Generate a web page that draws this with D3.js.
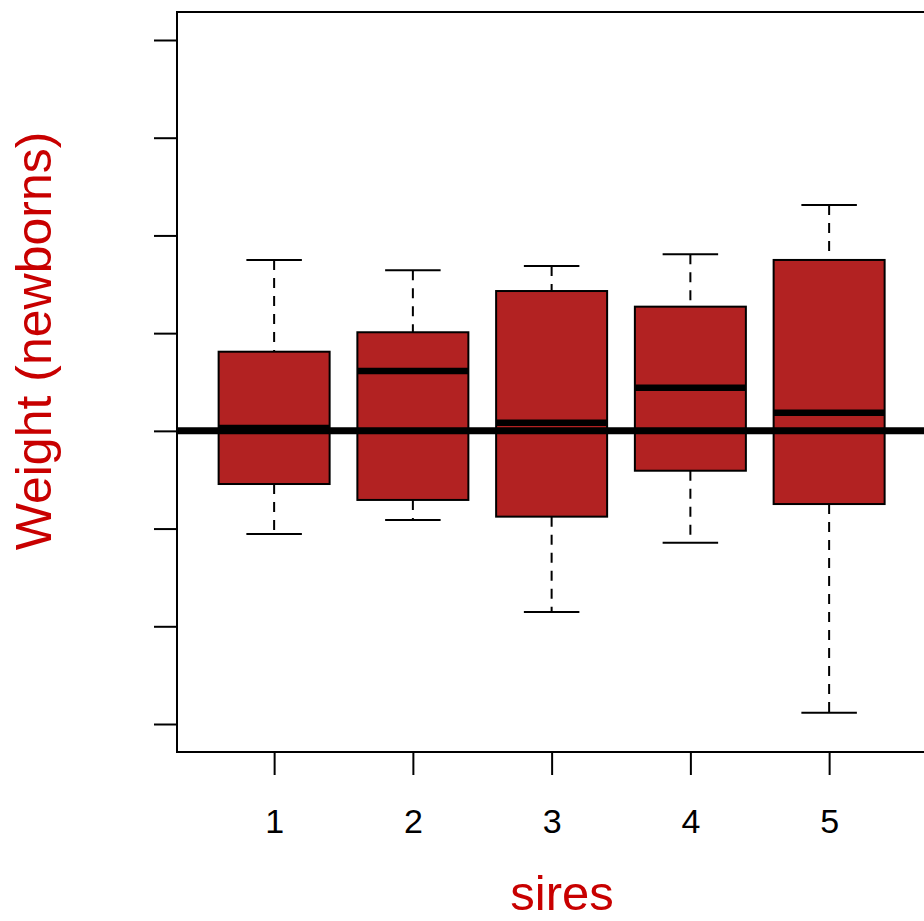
<!DOCTYPE html>
<html>
<head>
<meta charset="utf-8">
<script src="https://cdn.jsdelivr.net/npm/d3@7"></script>
<style>
  html, body { margin: 0; padding: 0; background: #fff; }
  svg { display: block; }
  text { font-family: "Liberation Sans", Arial, sans-serif; }
</style>
</head>
<body>
<svg id="chart" width="924" height="921"></svg>
<script>
// Five-number summaries of newborn weight, per sire
const sires = [1, 2, 3, 4, 5];
const whiskerLow  = [-1.056, -0.912, -1.854, -1.145, -2.884];
const quart1      = [-0.544, -0.707, -0.878, -0.408, -0.749];
const medians     = [ 0.029,  0.613,  0.084,  0.442,  0.186];
const quart3      = [ 0.810,  1.009,  1.431,  1.271,  1.749];
const whiskerHigh = [ 1.749,  1.643,  1.687,  1.807,  2.311];
const yTicks = [-3, -2, -1, 0, 1, 2, 3, 4];
const refLevel = 0;

(function () {
  const svg = d3.select("#chart");
  const pLeft = 177, pRight = 926.25, pTop = 12, pBottom = 752;

  const x = d3.scaleLinear().domain([0.3, 5.7]).range([pLeft, pRight]);
  const y = d3.scaleLinear().domain([-3.2865, 4.2865]).range([pBottom, pTop]);

  const boxHalf = 0.4, capHalf = 0.2;
  const fill = "#B22222", labelRed = "#C80000";

  svg.append("defs").append("clipPath").attr("id", "plotClip")
    .append("rect").attr("x", pLeft).attr("y", pTop)
    .attr("width", pRight - pLeft).attr("height", pBottom - pTop);

  const plot = svg.append("g").attr("clip-path", "url(#plotClip)");

  const data = sires.map((s, i) => ({
    s, lo: whiskerLow[i], q1: quart1[i], med: medians[i], q3: quart3[i], hi: whiskerHigh[i]
  }));

  const g = plot.selectAll("g.box").data(data).join("g").attr("class", "box");

  // whiskers (dashed)
  g.append("line")
    .attr("x1", d => x(d.s)).attr("x2", d => x(d.s))
    .attr("y1", d => y(d.hi)).attr("y2", d => y(d.q3))
    .attr("stroke", "#000").attr("stroke-width", 2).attr("stroke-dasharray", "10,8");
  g.append("line")
    .attr("x1", d => x(d.s)).attr("x2", d => x(d.s))
    .attr("y1", d => y(d.q1)).attr("y2", d => y(d.lo))
    .attr("stroke", "#000").attr("stroke-width", 2).attr("stroke-dasharray", "10,8");
  // staples
  g.append("line")
    .attr("x1", d => x(d.s - capHalf)).attr("x2", d => x(d.s + capHalf))
    .attr("y1", d => y(d.hi)).attr("y2", d => y(d.hi))
    .attr("stroke", "#000").attr("stroke-width", 2);
  g.append("line")
    .attr("x1", d => x(d.s - capHalf)).attr("x2", d => x(d.s + capHalf))
    .attr("y1", d => y(d.lo)).attr("y2", d => y(d.lo))
    .attr("stroke", "#000").attr("stroke-width", 2);
  // boxes
  g.append("rect")
    .attr("x", d => x(d.s - boxHalf)).attr("width", d => x(d.s + boxHalf) - x(d.s - boxHalf))
    .attr("y", d => y(d.q3)).attr("height", d => y(d.q1) - y(d.q3))
    .attr("fill", fill).attr("stroke", "#000").attr("stroke-width", 2);
  // medians
  g.append("line")
    .attr("x1", d => x(d.s - boxHalf)).attr("x2", d => x(d.s + boxHalf))
    .attr("y1", d => y(d.med)).attr("y2", d => y(d.med))
    .attr("stroke", "#000").attr("stroke-width", 6.5);

  // reference line
  plot.append("line")
    .attr("x1", pLeft).attr("x2", pRight)
    .attr("y1", y(refLevel)).attr("y2", y(refLevel))
    .attr("stroke", "#000").attr("stroke-width", 7);

  // frame
  svg.append("rect").attr("x", pLeft).attr("y", pTop)
    .attr("width", pRight - pLeft).attr("height", pBottom - pTop)
    .attr("fill", "none").attr("stroke", "#000").attr("stroke-width", 2);

  // y axis: ticks without labels
  const yAxis = d3.axisLeft(y).tickValues(yTicks).tickSize(23).tickFormat("");
  const ya = svg.append("g").attr("transform", `translate(${pLeft},0)`).call(yAxis);
  ya.select(".domain").remove();
  ya.selectAll(".tick line").attr("stroke", "#000").attr("stroke-width", 2);

  // x axis
  const xAxis = d3.axisBottom(x).tickValues(sires).tickSize(23).tickPadding(0).tickFormat(d3.format("d"));
  const xa = svg.append("g").attr("transform", `translate(0,${pBottom})`).call(xAxis);
  xa.select(".domain").remove();
  xa.selectAll(".tick line").attr("stroke", "#000").attr("stroke-width", 2);
  xa.selectAll(".tick text")
    .attr("y", 81).attr("dy", null)
    .attr("font-size", 34).attr("fill", "#000")
    .attr("font-family", "'Liberation Sans', Arial, sans-serif");

  // axis titles
  svg.append("text").attr("x", 562).attr("y", 910)
    .attr("text-anchor", "middle").attr("font-size", 49).attr("fill", labelRed)
    .text("sires");
  svg.append("text")
    .attr("transform", "translate(51,341) rotate(-90)")
    .attr("text-anchor", "middle").attr("font-size", 50).attr("fill", labelRed)
    .text("Weight (newborns)");
})();
</script>
</body>
</html>
